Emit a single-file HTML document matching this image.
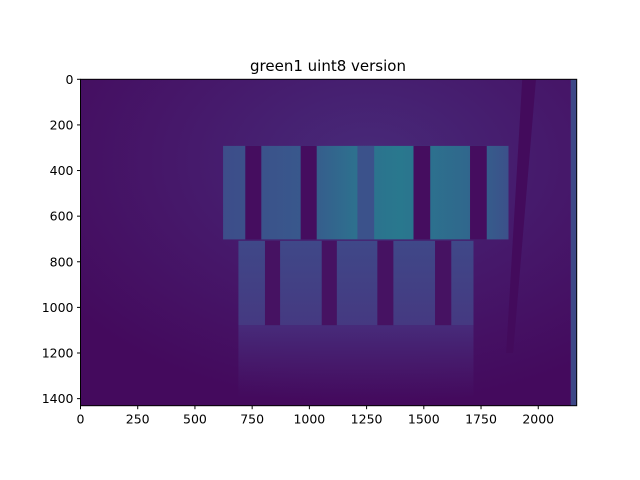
<!DOCTYPE html>
<html><head><meta charset="utf-8"><style>
html,body{margin:0;padding:0;background:#fff;width:640px;height:480px;overflow:hidden}
svg{display:block;font-family:"DejaVu Sans","Liberation Sans",sans-serif}
</style></head><body>
<svg id="chart" width="640" height="480" viewBox="0 0 640 480">
<defs>
<clipPath id="axclip"><rect x="80.5" y="79.3" width="496.2" height="326.4"/></clipPath>
<radialGradient id="bgGrad" cx="0.58" cy="0.25" r="0.75">
<stop offset="0" stop-color="#472a79"/><stop offset="0.5" stop-color="#46196b"/><stop offset="1" stop-color="#440a5d"/>
</radialGradient>
<linearGradient id="upperGrad" x1="0" x2="1" y1="0" y2="0">
<stop offset="0" stop-color="#3d4d8a"/><stop offset="0.3" stop-color="#38598c"/><stop offset="0.45" stop-color="#2e6f8e"/><stop offset="0.62" stop-color="#29788e"/><stop offset="0.85" stop-color="#30688d"/><stop offset="1" stop-color="#3c508a"/>
</linearGradient>
<linearGradient id="lowerGrad" x1="0" x2="0" y1="0" y2="1">
<stop offset="0" stop-color="#3f4888"/><stop offset="1" stop-color="#453981"/>
</linearGradient>
<linearGradient id="reflGrad" x1="0" x2="0" y1="0" y2="1">
<stop offset="0" stop-color="#472b7a"/><stop offset="1" stop-color="#461f70" stop-opacity="0"/>
</linearGradient>
</defs>
<text x="328" y="71" text-anchor="middle" font-size="15" fill="#000">green1 uint8 version</text>
<g id="img" clip-path="url(#axclip)"></g>
<rect x="80.5" y="79.3" width="496.2" height="326.4" fill="none" stroke="#000" stroke-width="1"/>
<g id="xticks"></g>
<g id="yticks"></g>
</svg>
<script>
const imgW = 2168, imgH = 1431;
const xTicks = [0, 250, 500, 750, 1000, 1250, 1500, 1750, 2000];
const yTicks = [0, 200, 400, 600, 800, 1000, 1200, 1400];
// regions: [x0, x1, y0, y1] in image pixel units
const upperPanel = [623, 1870, 292, 702];
const upperStripes = [[720, 790], [962, 1032], [1455, 1528], [1702, 1775]];
const upperMidStripe = [1210, 1283];
const lowerPanel = [690, 1717, 708, 1078];
const lowerStripes = [[806, 872], [1054, 1120], [1297, 1367], [1549, 1620]];
const reflection = [690, 1717, 1078, 1400];
const rightStrip = [2142, 2168];

const L = 80.5, T = 79.3, R = 576.7, B = 405.7;
const sx = v => L + v * (R - L) / imgW;
const sy = v => T + v * (B - T) / imgH;
const NS = "http://www.w3.org/2000/svg";
const g = document.getElementById("img");
function rect(x0, x1, y0, y1, fill, name) {
  const r = document.createElementNS(NS, "rect");
  r.setAttribute("x", sx(x0)); r.setAttribute("y", sy(y0));
  r.setAttribute("width", sx(x1) - sx(x0)); r.setAttribute("height", sy(y1) - sy(y0));
  r.setAttribute("fill", fill);
  
  
  g.appendChild(r); return r;
}
rect(0, imgW, 0, imgH, "url(#bgGrad)", "image-background");
rect(reflection[0], reflection[1], reflection[2], reflection[3], "url(#reflGrad)", "reflection");
rect(upperPanel[0], upperPanel[1], upperPanel[2], upperPanel[3], "url(#upperGrad)", "upper-panel");
upperStripes.forEach(s => rect(s[0], s[1], upperPanel[2], upperPanel[3], "#450d5f", "upper-stripe"));
rect(upperMidStripe[0], upperMidStripe[1], upperPanel[2], upperPanel[3], "#3b528b", "upper-mid-stripe");
rect(lowerPanel[0], lowerPanel[1], lowerPanel[2], lowerPanel[3], "url(#lowerGrad)", "lower-panel");
lowerStripes.forEach(s => rect(s[0], s[1], lowerPanel[2], lowerPanel[3], "#461262", "lower-stripe"));
rect(rightStrip[0], rightStrip[1], 0, imgH, "#3d4887", "right-edge-strip");
const pole = document.createElementNS(NS, "polygon");
pole.setAttribute("points", [[1930,0],[1990,0],[1890,1200],[1860,1200]].map(p => sx(p[0]) + "," + sy(p[1])).join(" "));
pole.setAttribute("fill", "#430b5c");


g.appendChild(pole);

const xg = document.getElementById("xticks");
xTicks.forEach(v => {
  const x = sx(v);
  const l = document.createElementNS(NS, "line");
  l.setAttribute("x1", x); l.setAttribute("x2", x); l.setAttribute("y1", B); l.setAttribute("y2", B + 3.5);
  l.setAttribute("stroke", "#000");
  
  
  xg.appendChild(l);
  const t = document.createElementNS(NS, "text");
  t.setAttribute("x", x); t.setAttribute("y", B + 18); t.setAttribute("text-anchor", "middle");
  t.setAttribute("font-size", "12.5"); t.textContent = v;
  
  
  xg.appendChild(t);
});
const yg = document.getElementById("yticks");
yTicks.forEach(v => {
  const y = sy(v);
  const l = document.createElementNS(NS, "line");
  l.setAttribute("x1", L - 3.5); l.setAttribute("x2", L); l.setAttribute("y1", y); l.setAttribute("y2", y);
  l.setAttribute("stroke", "#000");
  
  
  yg.appendChild(l);
  const t = document.createElementNS(NS, "text");
  t.setAttribute("x", L - 7); t.setAttribute("y", y + 4.5); t.setAttribute("text-anchor", "end");
  t.setAttribute("font-size", "12.5"); t.textContent = v;
  
  
  yg.appendChild(t);
});
</script>
</body></html>
